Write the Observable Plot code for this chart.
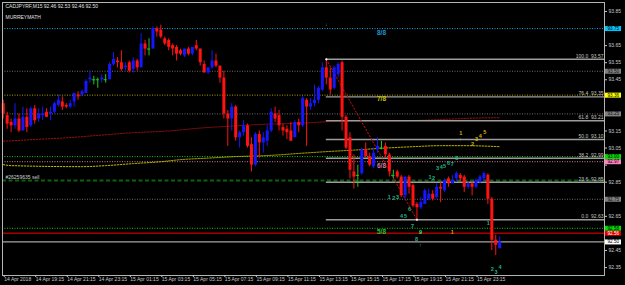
<!DOCTYPE html>
<html><head><meta charset="utf-8">
<script src="https://cdn.jsdelivr.net/npm/d3@7"></script>
<script src="https://cdn.jsdelivr.net/npm/@observablehq/plot@0.6"></script>
<style>html,body{margin:0;padding:0;background:#000;overflow:hidden}</style>
</head><body><div id="chart"></div>
<script>
// ---- header texts ----
const symbolTitle = "CADJPYRF,M15 92.46 92.53 92.46 92.50";
const indicatorName = "MURREYMATH";
const orderLabel = "#26259635 sell";

// ---- M15 candles, bars 1..127 (14 Apr 17:15 onwards) ----
const opens = [93.31,93.24,93.20,93.18,93.22,93.15,93.23,93.18,93.28,93.22,
93.24,93.26,93.25,93.26,93.30,93.32,93.30,93.29,93.32,93.36,
93.36,93.37,93.45,93.45,93.45,93.45,93.45,93.45,93.54,93.56,
93.55,93.52,93.55,93.51,93.56,93.52,93.66,93.63,93.63,93.75,
93.74,93.69,93.68,93.65,93.64,93.62,93.59,93.63,93.60,93.65,
93.63,93.54,93.49,93.52,93.56,93.53,93.46,93.25,93.22,93.29,
93.11,93.14,93.18,93.07,92.95,93.13,93.08,93.09,93.15,93.25,
93.24,93.17,93.16,93.15,93.11,93.20,93.18,93.33,93.29,93.31,
93.33,93.39,93.52,93.46,93.40,93.48,93.55,93.23,93.11,92.91,
92.89,92.90,93.04,93.00,92.94,93.04,93.05,93.06,93.01,92.89,
92.91,92.88,92.77,92.88,92.83,92.72,92.70,92.72,92.75,92.78,
92.76,92.82,92.80,92.87,92.84,92.87,92.89,92.88,92.82,92.84,
92.82,92.85,92.87,92.89,92.75,92.51,92.46];
const highs = [93.33,93.26,93.22,93.31,93.25,93.29,93.28,93.29,93.30,93.28,
93.29,93.28,93.29,93.32,93.36,93.35,93.31,93.33,93.37,93.38,
93.39,93.45,93.50,93.47,93.46,93.48,93.48,93.55,93.61,93.58,
93.62,93.55,93.56,93.58,93.57,93.72,93.68,93.69,93.76,93.76,
93.77,93.70,93.69,93.66,93.65,93.63,93.63,93.64,93.64,93.68,
93.63,93.56,93.52,93.62,93.60,93.53,93.50,93.27,93.31,93.30,
93.15,93.21,93.19,93.11,93.14,93.15,93.14,93.18,93.28,93.29,
93.27,93.19,93.18,93.20,93.21,93.22,93.35,93.34,93.34,93.42,
93.41,93.55,93.57,93.52,93.53,93.55,93.56,93.24,93.14,93.01,
92.95,93.05,93.08,93.02,93.05,93.11,93.09,93.08,93.02,92.92,
92.92,92.89,92.88,92.89,92.84,92.73,92.76,92.81,92.81,92.80,
92.84,92.85,92.87,92.88,92.89,92.91,92.90,92.89,92.85,92.85,
92.87,92.89,92.91,92.90,92.76,92.54,92.53];
const lows = [93.22,93.16,93.14,93.16,93.14,93.15,93.14,93.17,93.19,93.20,
93.21,93.23,93.21,93.25,93.29,93.27,93.28,93.28,93.29,93.33,
93.35,93.37,93.43,93.42,93.40,93.43,93.43,93.45,93.53,93.52,
93.50,93.50,93.49,93.49,93.50,93.52,93.59,93.59,93.63,93.70,
93.69,93.65,93.62,93.59,93.56,93.59,93.58,93.59,93.59,93.62,
93.53,93.49,93.48,93.51,93.52,93.43,93.22,93.06,93.15,93.09,
93.05,93.12,93.05,92.91,92.94,92.99,93.02,93.06,93.14,93.20,
93.15,93.12,93.10,93.09,93.11,93.14,93.17,93.06,93.27,93.29,
93.31,93.38,93.42,93.36,93.39,93.46,93.15,93.04,92.87,92.81,
92.82,92.89,92.99,92.94,92.93,93.02,93.04,92.99,92.88,92.87,
92.87,92.76,92.75,92.78,92.70,92.63,92.69,92.72,92.74,92.74,
92.75,92.73,92.79,92.82,92.84,92.85,92.85,92.79,92.81,92.77,
92.81,92.84,92.85,92.72,92.45,92.42,92.46];
const closes = [93.25,93.19,93.18,93.22,93.15,93.23,93.17,93.28,93.21,93.25,
93.25,93.23,93.26,93.31,93.33,93.29,93.29,93.31,93.37,93.35,
93.38,93.44,93.46,93.45,93.45,93.46,93.45,93.54,93.57,93.55,
93.51,93.53,93.50,93.56,93.52,93.66,93.63,93.63,93.75,93.73,
93.70,93.66,93.64,93.63,93.60,93.60,93.63,93.60,93.64,93.63,
93.55,93.49,93.52,93.56,93.53,93.46,93.25,93.22,93.29,93.11,
93.14,93.18,93.06,92.95,93.13,93.08,93.11,93.15,93.26,93.22,
93.18,93.15,93.14,93.09,93.20,93.18,93.34,93.29,93.31,93.33,
93.40,93.52,93.46,93.39,93.52,93.54,93.23,93.05,92.92,92.88,
92.89,93.04,93.00,92.95,93.02,93.06,93.05,93.01,92.91,92.89,
92.88,92.77,92.88,92.82,92.71,92.70,92.73,92.80,92.78,92.75,
92.82,92.81,92.86,92.84,92.86,92.90,92.87,92.82,92.84,92.82,
92.86,92.88,92.90,92.75,92.51,92.48,92.50];

// ---- time axis ----
const timeTickBars = [1,9,17,25,33,41,49,57,65,73,81,89,97,105,113,121];
const timeTickLabels = ["14 Apr 2018","14 Apr 19:15","14 Apr 21:15","14 Apr 23:15","15 Apr 01:15","15 Apr 03:15",
"15 Apr 05:15","15 Apr 07:15","15 Apr 09:15","15 Apr 11:15","15 Apr 13:15","15 Apr 15:15","15 Apr 17:15",
"15 Apr 19:15","15 Apr 21:15","15 Apr 23:15"];
// ---- price axis (ticks; labels shown where no price box covers them) ----
const priceTicks = [93.85,93.75,93.65,93.55,93.45,93.35,93.25,93.15,93.05,92.95,92.85,92.75,92.65,92.55,92.45,92.35];
const priceLabelTicks = [93.85,93.65,93.55,93.45,93.15,93.05,92.85,92.65,92.45,92.35];

// ---- moving averages (sampled) ----
const maRedBars = [1,9,17,26,34,43,51,60,68,77,84,92,102,112,120,127];
const maRedValues = [93.09,93.10,93.11,93.126,93.14,93.15,93.167,93.18,93.19,93.196,93.205,93.21,93.21,93.217,93.225,93.228];
const maYellowBars = [1,3,21,27,34,41,46,53,60,68,77,83,90,98,105,112,118,127];
const maYellowValues = [92.953,92.947,92.941,92.947,92.959,92.97,92.982,92.991,93.00,93.006,93.02,93.029,93.038,93.05,93.058,93.064,93.064,93.058];

// ---- horizontal levels ----
const dottedLevels = [93.75,93.50,93.36,93.25,93.00,92.97,92.75,92.58];
const dottedColors = ["#12a6e6","#6e6e6e","#aaa400","#6e6e6e","#14c414","#d27c9e","#6e6e6e","#14c414"];
const stopLevel = 92.551;
const bidLevel = 92.50;
const orderLevel = 92.86;

// ---- Murrey labels ----
const murreyText = ["8/8","7/8","6/8","5/8"];
const murreyPrices = [93.75,93.36,92.97,92.58];
const murreyColors = ["#1e96d0","#c8c000","#d07ea0","#2cc02c"];
const murreyBar = 97;

// ---- price boxes on the right axis ----
const boxPrices = [93.75,93.50,93.36,93.25,93.00,92.97,92.75,92.58,92.551,92.50];
const boxText = ["93.75","93.50","93.36","93.25","93.00","92.97","92.75","92.58","92.56","92.50"];
const boxBg = ["#00c8ff","#808080","#ffff00","#808080","#00e000","#ff80c0","#808080","#00e000","#e00000","#ffffff"];
const boxFg = ["#000","#101010","#000","#101010","#000","#000","#101010","#000","#ffffff","#000"];

// ---- Fibonacci ----
const fibPct = ["100.0","76.4","61.8","50.0","38.2","23.6","0.0"];
const fibPrice = [93.57,93.35,93.21,93.10,92.99,92.85,92.63];
const fibHighBar = 83, fibHigh = 93.57, fibLowBar = 106, fibLow = 92.63;

// ---- wave count labels ----
const yellowWaveText = ["1","2","3","4","5"];
const yellowWaveBars = [117.1,120.1,121.1,122.1,123.2];
const yellowWavePrices = [93.135,93.073,93.10,93.12,93.14];
const greenWaveText = ["3","4","5","6","7","8","1","2","1","2","3","4","5","6","7","9","8","1","2","3","4","↑","↑","↓"];
const greenWaveBars = [111.2,112.2,113,114,115,116.1,109.3,110.2,99,100.1,101.1,102.1,103.1,104.1,104.9,106.9,105.9,124.1,125.1,126.1,127.1,106.9,117.1,83];
const greenWavePrices = [92.931,92.935,92.941,92.959,92.956,92.988,92.878,92.871,92.761,92.754,92.761,92.65,92.65,92.691,92.591,92.555,92.513,92.607,92.34,92.322,92.352,92.48,93.10,93.773];
const orangeWaveText = ["1"], orangeWaveBars = [115], orangeWavePrices = [92.555];

// ---- build tables ----
const bars = opens.map((o, k) => ({i: k + 1, o, h: highs[k], l: lows[k], c: closes[k]}));
const colorOf = d => d.c > d.o ? "#1616ff" : d.c < d.o ? "#ff1212" : "#1ccc1c";
const bodies = bars.filter(d => d.c !== d.o);
const dojis = bars.filter(d => d.c === d.o);
const maRed = maRedBars.map((b, k) => ({i: b, v: maRedValues[k]}));
const maYellow = maYellowBars.map((b, k) => ({i: b, v: maYellowValues[k]}));
const levels = dottedLevels.map((p, k) => ({p, color: dottedColors[k]}));
const murrey = murreyText.map((t, k) => ({t, p: murreyPrices[k], color: murreyColors[k], i: murreyBar}));
const boxes = boxPrices.map((p, k) => ({p, t: boxText[k], bg: boxBg[k], fg: boxFg[k]}));
const fib = fibPct.map((t, k) => ({t: t + "\u00a0\u00a0" + fibPrice[k].toFixed(2), p: fibPrice[k]}));
const fibDiag = [{i: fibHighBar, p: fibHigh}, {i: fibLowBar, p: fibLow}];
const waves = [
  ...yellowWaveText.map((t, k) => ({t, i: yellowWaveBars[k], p: yellowWavePrices[k], color: "#d8b000"})),
  ...greenWaveText.map((t, k) => ({t, i: greenWaveBars[k], p: greenWavePrices[k], color: t === "9" ? "#30f060" : "#1fb585"})),
  ...orangeWaveText.map((t, k) => ({t, i: orangeWaveBars[k], p: orangeWavePrices[k], color: "#e09a00"}))
];
const timeLabelMap = new Map(timeTickBars.map((b, k) => [b, timeTickLabels[k]]));
const xDomain = [0.82, 153.6];
const yDomain = [92.3034, 93.9027];
const font = "'Liberation Sans', Arial, sans-serif";

const chart = Plot.plot({
  width: 625, height: 285,
  marginTop: 2, marginRight: 21, marginBottom: 10, marginLeft: 2,
  style: {background: "#000", color: "#c8c8c8", fontFamily: font, fontSize: "5px"},
  x: {domain: xDomain, axis: null},
  y: {domain: yDomain, axis: null},
  color: {type: "identity"},
  marks: [
    Plot.ruleY(levels, {y: "p", stroke: "color", strokeWidth: 1, strokeDasharray: "1,1.5"}),
    Plot.ruleY([orderLevel], {stroke: "#0c620c", strokeWidth: 2, strokeDasharray: "4,2.5"}),
    Plot.ruleY([stopLevel], {stroke: "#a80000", strokeWidth: 1.6}),
    Plot.ruleY([bidLevel], {stroke: "#a4a4a4", strokeWidth: 1.2}),
    Plot.line(maRed, {x: "i", y: "v", stroke: "#a01010", strokeWidth: 1, strokeDasharray: "1.5,1.5", curve: "monotone-x"}),
    Plot.line(maYellow, {x: "i", y: "v", stroke: "#c8c400", strokeWidth: 1, strokeDasharray: "1.5,1.5", curve: "monotone-x"}),
    Plot.ruleY(fib, {y: "p", x1: () => fibHighBar, x2: () => xDomain[1], stroke: "#9c9c9c", strokeWidth: 1.4}),
    Plot.text(fib, {y: "p", text: "t", frameAnchor: "right", textAnchor: "end", dx: -1, dy: -3, fill: "#c4c4c4", fontSize: 5}),
    Plot.line(fibDiag, {x: "i", y: "p", stroke: "#c01010", strokeWidth: 1, strokeDasharray: "1.5,2"}),
    // candles
    Plot.ruleX(bars, {x: "i", y1: "l", y2: "h", stroke: colorOf, strokeWidth: 1}),
    Plot.ruleX(bodies, {x: "i", y1: "o", y2: "c", stroke: colorOf, strokeWidth: 3}),
    Plot.ruleY(dojis, {y: "o", x1: d => d.i - 0.4, x2: d => d.i + 0.4, stroke: colorOf, strokeWidth: 1}),
    Plot.dot(fibDiag, {x: "i", y: "p", r: 1.1, fill: "#ffffff", stroke: null}),
    // labels
    Plot.text(murrey, {x: "i", y: "p", text: "t", fill: "color", dy: 4, fontSize: 6.5, fontWeight: "bold"}),
    Plot.text(waves, {x: "i", y: "p", text: "t", fill: "color", fontSize: 5.5, fontWeight: "bold"}),
    Plot.text([symbolTitle], {frameAnchor: "top-left", dx: 3, dy: 2, lineAnchor: "top", fill: "#e0e0e0", fontSize: 5}),
    Plot.text([indicatorName], {frameAnchor: "top-left", dx: 3, dy: 13, lineAnchor: "top", fill: "#e0e0e0", fontSize: 5}),
    Plot.text([orderLabel], {y: () => orderLevel, frameAnchor: "left", textAnchor: "start", dx: 3, dy: -3.5, fill: "#d0d0d0", fontSize: 5}),
    // axes & frame
    Plot.frame({stroke: "#b4b4b4"}),
    Plot.axisY({anchor: "right", ticks: priceTicks, tickFormat: () => "", tickSize: 2, color: "#c8c8c8", label: null}),
    Plot.axisY({anchor: "right", ticks: priceLabelTicks, tickFormat: d => d.toFixed(2), tickSize: 0, tickPadding: 4, fontSize: 5, color: "#c8c8c8", label: null}),
    Plot.axisX({anchor: "bottom", ticks: timeTickBars, tickFormat: d => timeLabelMap.get(d), tickSize: 2, tickPadding: 0, textAnchor: "start", dx: 1, fontSize: 5, color: "#c8c8c8", label: null}),
    Plot.ruleY(boxes, {y: "p", stroke: "bg", strokeWidth: 5, insetLeft: 603, insetRight: -17}),
    Plot.text(boxes, {y: "p", text: "t", fill: "fg", frameAnchor: "right", textAnchor: "start", dx: 3, fontSize: 4.6})
  ]
});
document.getElementById("chart").append(chart);
</script></body></html>
